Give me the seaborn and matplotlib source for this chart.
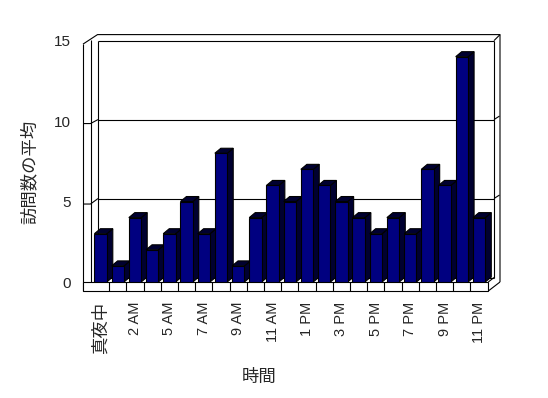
import matplotlib
matplotlib.use("Agg")
import matplotlib.pyplot as plt
import seaborn as sns
import pandas as pd
from matplotlib.lines import Line2D
from matplotlib.patches import Polygon
from matplotlib.transforms import IdentityTransform

categories = ['真夜中', '1 AM', '2 AM', '3 AM', '5 AM', '6 AM', '7 AM', '8 AM', '9 AM',
              '10 AM', '11 AM', '正午', '1 PM', '2 PM', '3 PM', '4 PM', '5 PM', '6 PM',
              '7 PM', '8 PM', '9 PM', '10 PM', '11 PM']
values = [3, 1, 4, 2, 3, 5, 3, 8, 1, 4, 6, 5, 7, 6, 5, 4, 3, 4, 3, 7, 6, 14, 4]
y_ticks = [0, 5, 10, 15]
x_label = '時間'
y_label = '訪問数の平均'

sns.set_style('white')
plt.rcParams['font.family'] = ['Liberation Sans', 'Noto Sans CJK JP']

W, H = 548, 398
fig = plt.figure(figsize=(W / 100, H / 100), dpi=100)
fig.patch.set_facecolor('white')
ax = fig.add_axes([92 / W, 1 - 282 / H, (487.7 - 92) / W, (282 - 40.6) / H])

df = pd.DataFrame({x_label: categories, y_label: values})
sns.barplot(data=df, x=x_label, y=y_label, order=categories, color='#000080',
            saturation=1, width=0.72, edgecolor='black', linewidth=0.8, ax=ax)

n = len(categories)
ax.set_xlim(-0.5, n - 0.5)
ax.set_ylim(0, 15)
ax.set_autoscale_on(False)
for s in ax.spines.values():
    s.set_visible(False)
ax.patch.set_visible(False)
ax.grid(False)

T = ax.transData


def S(x, y, dx=0.0, dy=0.0):
    px, py = T.transform((x, y))
    return (px + dx, py - dy)


LW = 0.8
x0, x1 = -0.5, n - 0.5


def line(pts, z=0.5):
    xs = [p[0] for p in pts]
    ys = [p[1] for p in pts]
    ln = Line2D(xs, ys, transform=IdentityTransform(), color='black', lw=LW,
                zorder=z, clip_on=False, solid_capstyle='butt')
    ax.add_line(ln)


def back_dy(v):
    return -4.5 * (1 - v / 15)


# back wall gridlines with left-wall ticks and right-edge continuation
for v in y_ticks:
    bl = S(x0, v, 6, back_dy(v))
    br = S(x1, v, 6.3, back_dy(v))
    line([bl, br])
    if v in (5, 10):
        line([S(x0, v, -9, 2.5), S(x0, v, -1.5, 2.5), bl])
        line([br, S(x1, v, 11.8, back_dy(v) - 3.5)])

# back wall edges
line([S(x0, 15, 6, 0), S(x0, 0, 6, back_dy(0))])
line([S(x1, 15, 6.3, 0), S(x1, 0, 6.3, back_dy(0))])
# outer top and right edges
line([S(x0, 15, -9, 3.5), S(x0, 15, 5.5, -6), S(x1, 15, 12.3, -6), S(x1, 0, 12.3, 0)])
line([S(x1, 15, 6.3, 0), S(x1, 15, 12.3, -6)])
# left wall
line([S(x0, 15, -9, 3.5), S(x0, 0, -9, 9)])
line([S(x0, 15, -1.5, -0.5), S(x0, 0, -1.5, 0)])
# floor front face
floor = Polygon([S(x0, 0, -9, 0), S(x1, 0, 0.6, 0), S(x1, 0, 0.6, 9), S(x0, 0, -9, 9)],
                closed=True, transform=IdentityTransform(), facecolor='white',
                edgecolor='black', lw=LW, zorder=0.6, clip_on=False)
ax.add_patch(floor)
for i in range(n - 1):
    line([S(i + 0.5, 0, 0, 0), S(i + 0.5, 0, 0, 9)], z=0.7)
# floor right side
line([S(x1, 0, 0.6, 9), S(x1, 0, 12.3, 0)])
line([S(x1, 0, 0.6, 0), S(x1, 0, 6.3, back_dy(0))])

# 3D depth of bars, derived from the bars seaborn drew
DX, DY = 6.0, -5.0
bars = [p for p in ax.patches if p is not floor]
for i, p in enumerate(bars):
    bx, bw, bh = p.get_x(), p.get_width(), p.get_height()
    z = 3 + i * 0.01
    side = Polygon([S(bx + bw, 0), S(bx + bw, bh), S(bx + bw, bh, DX, DY), S(bx + bw, 0, DX, DY)],
                   closed=True, transform=IdentityTransform(), facecolor='#000030',
                   edgecolor='black', lw=LW, zorder=z, clip_on=False)
    cap = Polygon([S(bx, bh), S(bx + bw, bh), S(bx + bw, bh, DX, DY), S(bx, bh, DX, DY)],
                  closed=True, transform=IdentityTransform(), facecolor='#000030',
                  edgecolor='black', lw=LW, zorder=z, clip_on=False)
    ax.add_patch(side)
    ax.add_patch(cap)
    p.set_zorder(z + 0.005)

# ticks and labels
ax.set_yticks(y_ticks)
ax.set_yticklabels([str(v) for v in y_ticks], fontsize=11)
ax.tick_params(axis='y', length=0, pad=15)
ax.set_xticks(list(range(0, n, 2)))
ax.set_xticklabels(categories[::2], rotation=90, va='top', ha='center', fontsize=10.5)
ax.tick_params(axis='x', length=0, pad=14)
for t in ax.get_xticklabels():
    if t.get_text() == '真夜中':
        t.set_fontsize(12.5)
        t.set_fontfamily(['Noto Sans CJK JP'])

ax.set_xlabel(x_label, fontsize=12.5, fontfamily=['Noto Sans CJK JP'])
ax.set_ylabel(y_label, fontsize=12.5, fontfamily=['Noto Sans CJK JP'])
ax.xaxis.set_label_coords((259 - 92) / 395.7, -(377 - 282) / 241.4)
ax.yaxis.label.set_va('center')
ax.xaxis.label.set_va('center')
ax.yaxis.set_label_coords((30 - 92) / 395.7, 1 - (172 - 40.6) / 241.4)

fig.savefig('out.png', dpi=100)
